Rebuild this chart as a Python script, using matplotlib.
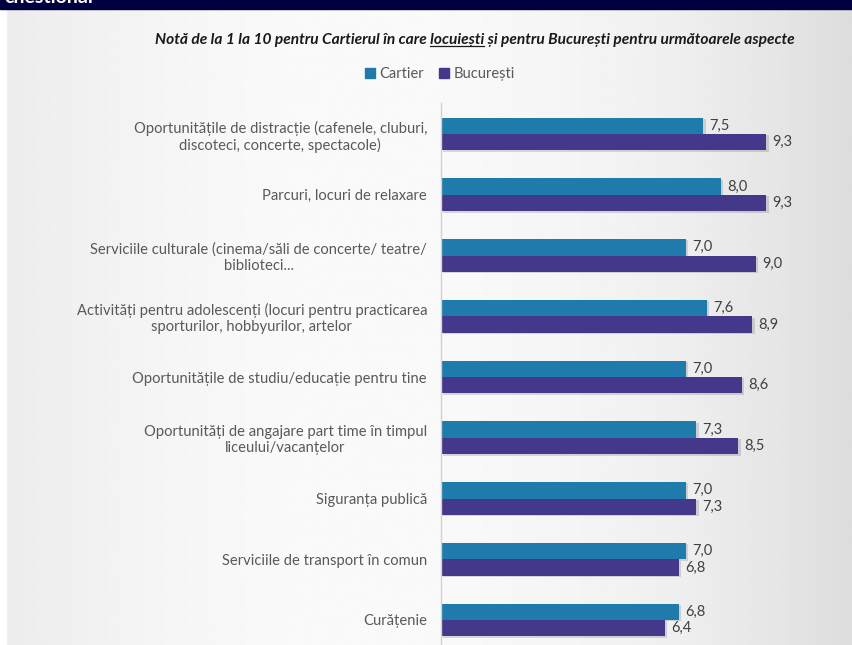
import matplotlib.pyplot as plt
import matplotlib.patheffects as pe
from matplotlib.patches import Rectangle, Patch
from matplotlib.lines import Line2D
import numpy as np

categorii = [
    "Oportunitățile de distracție (cafenele, cluburi,\ndiscoteci, concerte, spectacole)",
    "Parcuri, locuri de relaxare",
    "Serviciile culturale (cinema/săli de concerte/ teatre/\nbiblioteci...",
    "Activități pentru adolescenți (locuri pentru practicarea\nsporturilor, hobbyurilor, artelor",
    "Oportunitățile de studiu/educație pentru tine",
    "Oportunități de angajare part time în timpul\nliceului/vacanțelor",
    "Siguranța publică",
    "Serviciile de transport în comun",
    "Curățenie",
]
cartier = [7.5, 8.0, 7.0, 7.6, 7.0, 7.3, 7.0, 7.0, 6.8]
bucuresti = [9.3, 9.3, 9.0, 8.9, 8.6, 8.5, 7.3, 6.8, 6.4]
serii = ["Cartier", "București"]
culori = ["#1f7bab", "#44388a"]

titlu_a = "Notă de la 1 la 10 pentru Cartierul în care "
titlu_b = "locuiești"
titlu_c = " și pentru București pentru următoarele aspecte"

plt.rcParams['font.family'] = ['Lato', 'DejaVu Sans']

W, H = 853, 645
fig = plt.figure(figsize=(W / 100, H / 100), dpi=100)

# fundal cu gradient
bg = fig.add_axes([0, 0, 1, 1], zorder=-10)
xs = np.linspace(0, 1, 400)
prof = 0.925 + 0.055 * np.sin(np.pi * np.clip(xs / 0.85, 0, 1)) - 0.06 * np.clip((xs - 0.8) / 0.2, 0, 1) ** 1.5
grad = np.tile(prof, (50, 1))
bg.imshow(grad, cmap="gray", vmin=0, vmax=1, aspect="auto", extent=[0, 1, 0, 1])
bg.add_patch(Rectangle((0, 0), 6 / W, 1, color="white", transform=bg.transAxes))
bg.add_patch(Rectangle((0, 1 - 9 / H), 1, 9 / H, color="#000040", transform=bg.transAxes))
bg.text(4 / W, 1 - 6 / H, "chestionar", color="white", fontsize=14, fontweight="bold",
        va="bottom", ha="left", transform=bg.transAxes)
bg.set_xlim(0, 1)
bg.set_ylim(0, 1)
bg.axis("off")

# graficul
x0, px_unit = 441, 35.0
top_px, pas = 103, 60.75
ax = fig.add_axes([x0 / W, 0, (W - x0) / W, (H - top_px) / H])
ax.patch.set_alpha(0)
y = np.arange(len(categorii))
h = 0.27
umbra = [pe.SimplePatchShadow(offset=(1.5, -1), alpha=0.15), pe.Normal()]
b1 = ax.barh(y - h / 2, cartier, height=h, color=culori[0], path_effects=umbra)
b2 = ax.barh(y + h / 2, bucuresti, height=h, color=culori[1], path_effects=umbra)
for bars, vals in ((b1, cartier), (b2, bucuresti)):
    for b, v in zip(bars, vals):
        ax.text(v + 0.17, b.get_y() + b.get_height() / 2, f"{v:.1f}".replace(".", ","),
                va="center", ha="left", fontsize=10.5, color="#404040")

ax.set_xlim(0, (W - x0) / px_unit)
ax.set_ylim(len(categorii) - 1 + 25 / pas, -31 / pas)
ax.set_yticks(y)
ax.set_yticklabels(categorii, fontsize=10.6, color="#595959", multialignment="center")
ax.tick_params(axis="y", length=0, pad=10)
ax.set_xticks([])
for s in ["top", "right", "bottom"]:
    ax.spines[s].set_visible(False)
ax.spines["left"].set_color("#d0d0d0")
ax.spines["left"].set_linewidth(1)

# titlul cu cuvant subliniat
fs_t = 11.2
ty = 1 - 40 / H
tcx = 475 / W
full = fig.text(tcx, ty, titlu_a + titlu_b + titlu_c, ha="center", va="center",
                fontsize=fs_t, fontweight="bold", fontstyle="italic", color="#1a1a1a")
fig.canvas.draw()
r = fig.canvas.get_renderer()
bb = full.get_window_extent(r)
tmp = fig.text(0, 0, titlu_a + titlu_b, fontsize=fs_t, fontweight="bold", fontstyle="italic")
w_ab = tmp.get_window_extent(r).width
tmp.set_text(titlu_b)
w_b = tmp.get_window_extent(r).width
tmp.remove()
x_end = bb.x0 + w_ab
x_start = x_end - w_b
uy = bb.y0 + 1
fig.add_artist(Line2D([x_start / W, x_end / W], [uy / H, uy / H], color="#1a1a1a", lw=0.9))

# legenda
handles = [Patch(color=c, label=s) for c, s in zip(culori, serii)]
fig.legend(handles=handles, loc="center", bbox_to_anchor=(440 / W, 1 - 74 / H), ncol=2,
           frameon=False, fontsize=10.5, handlelength=0.7, handleheight=0.7,
           handletextpad=0.3, columnspacing=1.0, labelcolor="#595959")

fig.savefig("out.png", dpi=100)
